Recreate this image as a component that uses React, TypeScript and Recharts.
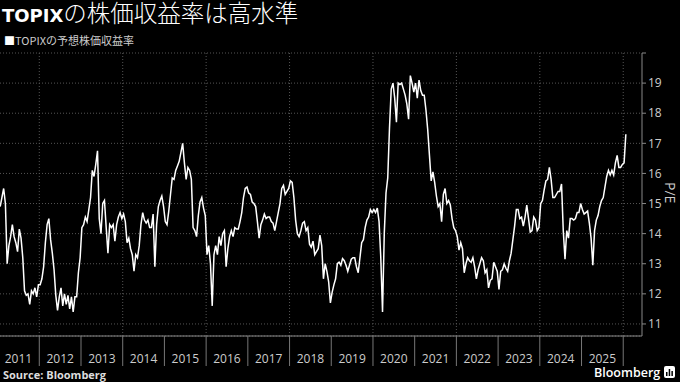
import { LineChart, Line, XAxis, YAxis, CartesianGrid, ReferenceLine } from 'recharts';

// forward P/E (2011 starts in the second half of January)
const pe2011 = [14.9, 15.2, 15.5, 15.0, 13.0, 13.6, 13.9, 14.3, 13.9, 13.7, 13.4, 14.15, 13.85, 13.2, 12.1, 11.95, 12.0, 11.65, 12.1, 12.0, 12.2, 11.9, 12.3];
const pe2012 = [12.3, 12.5, 12.9, 13.7, 14.3, 14.5, 13.8, 13.35, 12.8, 11.95, 11.45, 11.9, 12.2, 11.6, 12.0, 11.65, 11.95, 11.5, 11.9, 11.4, 11.9, 11.9, 12.7, 13.2];
const pe2013 = [14.2, 14.3, 14.55, 14.4, 14.8, 15.2, 16.1, 15.9, 16.3, 16.75, 14.5, 14.0, 15.0, 15.1, 14.2, 13.35, 14.3, 14.2, 14.3, 13.75, 14.3, 14.55, 14.7, 14.5];
const pe2014 = [14.65, 14.4, 13.7, 13.85, 13.5, 13.3, 12.75, 13.3, 13.2, 13.6, 14.3, 14.7, 14.45, 14.35, 14.45, 14.2, 14.2, 14.65, 12.9, 14.3, 14.9, 15.1, 15.25, 14.9];
const pe2015 = [14.4, 14.3, 14.75, 15.3, 15.85, 15.8, 16.1, 16.25, 16.4, 16.7, 17.0, 16.35, 15.8, 16.2, 16.1, 15.8, 14.2, 14.1, 13.9, 14.6, 15.05, 15.2, 14.85, 14.6];
const pe2016 = [13.3, 13.6, 13.0, 11.6, 13.3, 13.6, 13.3, 13.9, 13.6, 14.0, 14.1, 12.9, 13.5, 13.9, 14.1, 13.9, 14.2, 14.15, 14.15, 14.4, 14.7, 15.2, 15.5, 15.55];
const pe2017 = [15.35, 15.3, 15.05, 15.0, 14.9, 14.4, 13.85, 14.3, 14.45, 14.65, 14.5, 14.55, 14.55, 14.4, 14.35, 14.1, 14.4, 14.7, 15.0, 15.5, 15.6, 15.3, 15.4, 15.5];
const pe2018 = [15.75, 15.7, 15.2, 14.45, 14.0, 13.9, 14.1, 14.35, 14.4, 14.1, 14.2, 13.65, 13.55, 13.75, 13.3, 13.4, 13.5, 13.95, 13.6, 12.5, 13.0, 12.75, 12.4, 11.7];
const pe2019 = [12.05, 12.3, 12.5, 13.0, 13.05, 12.95, 13.17, 13.1, 12.95, 12.75, 12.95, 13.15, 13.2, 13.2, 12.9, 12.7, 13.2, 13.7, 13.8, 14.2, 14.45, 14.55, 14.8, 14.7];
const pe2020 = [14.8, 14.7, 14.85, 14.4, 13.2, 11.4, 14.0, 15.35, 15.85, 17.5, 18.8, 19.0, 18.5, 17.7, 19.0, 18.95, 19.0, 18.8, 18.6, 18.3, 17.8, 19.25, 19.0, 18.7];
const pe2021 = [19.0, 18.5, 19.1, 18.75, 18.6, 18.6, 18.1, 17.45, 16.6, 15.75, 16.05, 15.7, 15.25, 14.9, 15.0, 14.4, 15.3, 15.5, 15.0, 15.1, 14.95, 14.5, 14.2, 14.1];
const pe2022 = [13.9, 13.45, 13.7, 13.5, 12.7, 13.0, 13.2, 13.1, 13.05, 13.2, 12.9, 12.5, 12.8, 13.0, 13.2, 13.1, 12.7, 12.8, 12.2, 12.45, 12.5, 13.05, 12.9, 12.75];
const pe2023 = [12.15, 12.75, 12.8, 13.0, 12.85, 12.75, 13.1, 13.35, 13.8, 14.25, 14.8, 14.8, 14.5, 14.55, 14.25, 14.55, 14.95, 14.5, 14.05, 14.1, 14.55, 14.45, 14.1, 14.2];
const pe2024 = [15.0, 15.1, 15.45, 15.75, 15.8, 16.2, 15.8, 15.2, 15.2, 15.3, 15.4, 15.4, 15.65, 14.1, 13.15, 14.1, 13.85, 14.5, 14.5, 14.45, 14.5, 14.7, 14.7, 15.0];
const pe2025 = [14.8, 14.65, 14.7, 14.75, 14.35, 13.85, 12.95, 14.1, 14.45, 14.6, 14.9, 15.1, 15.2, 15.55, 15.9, 16.1, 15.95, 16.1, 15.95, 16.35, 16.6, 16.2, 16.2, 16.3];
const pe2026 = [16.35, 17.3];

const yearSeries = [
  { year: 2011, start: 1, values: pe2011 },
  { year: 2012, start: 0, values: pe2012 },
  { year: 2013, start: 0, values: pe2013 },
  { year: 2014, start: 0, values: pe2014 },
  { year: 2015, start: 0, values: pe2015 },
  { year: 2016, start: 0, values: pe2016 },
  { year: 2017, start: 0, values: pe2017 },
  { year: 2018, start: 0, values: pe2018 },
  { year: 2019, start: 0, values: pe2019 },
  { year: 2020, start: 0, values: pe2020 },
  { year: 2021, start: 0, values: pe2021 },
  { year: 2022, start: 0, values: pe2022 },
  { year: 2023, start: 0, values: pe2023 },
  { year: 2024, start: 0, values: pe2024 },
  { year: 2025, start: 0, values: pe2025 },
  { year: 2026, start: 0, values: pe2026 },
];

const yearLabels = [2011, 2012, 2013, 2014, 2015, 2016, 2017, 2018, 2019, 2020, 2021, 2022, 2023, 2024, 2025];
const yearBreaks = [2012, 2013, 2014, 2015, 2016, 2017, 2018, 2019, 2020, 2021, 2022, 2023, 2024, 2025, 2026];
const gridYears = [2012, 2014, 2016, 2018, 2020, 2022, 2024, 2026];
const peTicks = [11, 12, 13, 14, 15, 16, 17, 18, 19, 20];

const data = yearSeries.flatMap(({ year, start, values }) =>
  values.map((pe, i) => ({ t: year + (start + i + 0.5) / 24, pe })),
);

const xTicks = [...yearLabels.map((y) => y + 0.5), ...yearBreaks];

const font = "'Open Sans', 'Noto Sans', sans-serif";
const jpFont = "'Noto Sans CJK JP', 'Noto Sans', sans-serif";

function YearTick(props: any) {
  const { x, y, payload } = props;
  const v = payload.value as number;
  if (Number.isInteger(v)) {
    return <line x1={x} x2={x} y1={y} y2={y + 30} stroke="#777" />;
  }
  return (
    <text x={x} y={y + 27} textAnchor="middle" fill="#ccc" fontSize={12} fontFamily={font}>
      {Math.floor(v)}
    </text>
  );
}

export default function App() {
  return (
    <div
      style={{
        position: 'absolute',
        left: 0,
        top: 0,
        width: 680,
        height: 382,
        background: '#000',
        overflow: 'hidden',
      }}
    >
      <LineChart width={680} height={382} data={data} margin={{ top: 53, right: 0, left: 0, bottom: 16 }}>
        <CartesianGrid vertical={false} stroke="#555" strokeDasharray="1 2" />
        {gridYears.map((y) => (
          <ReferenceLine key={y} x={y} stroke="#555" strokeDasharray="1 2" />
        ))}
        <XAxis
          dataKey="t"
          type="number"
          domain={[2011.058, 2026.45]}
          allowDataOverflow
          ticks={xTicks}
          interval={0}
          height={30}
          tickLine={false}
          tickSize={0}
          tickMargin={0}
          stroke="#888"
          tick={YearTick}
        />
        <YAxis
          orientation="right"
          domain={[10.6, 20]}
          allowDataOverflow
          ticks={peTicks}
          interval={0}
          width={38}
          stroke="#888"
          tickSize={4}
          tickMargin={2}
          tickFormatter={(v: number) => (v === 20 ? '' : String(v))}
          tick={{ fill: '#ccc', fontSize: 12, fontFamily: font }}
        />
        <Line
          type="linear"
          dataKey="pe"
          stroke="#fff"
          strokeWidth={1.5}
          dot={false}
          isAnimationActive={false}
        />
      </LineChart>

      <svg
        width={680}
        height={382}
        style={{ position: 'absolute', left: 0, top: 0, pointerEvents: 'none' }}
      >
        <text x={2} y={21.5} fill="#fff">
          <tspan fontFamily="'DejaVu Sans', sans-serif" fontWeight={700} fontSize={18}>
            TOPIX
          </tspan>
          <tspan fontFamily={jpFont} fontWeight={300} fontSize={23.5}>
            の株価収益率は高水準
          </tspan>
        </text>
        <text x={4} y={44.5} fontFamily={jpFont} fontSize={11} fill="#ccc">
          <tspan fill="#fff">■</tspan>TOPIXの予想株価収益率
        </text>
        <text
          transform="translate(665,182) rotate(90)"
          fontFamily={font}
          fontSize={14}
          fill="#ccc"
        >
          P/E
        </text>
        <text x={3} y={378.5} fontFamily={font} fontWeight={700} fontSize={11} fill="#ddd">
          Source: Bloomberg
        </text>
        <text x={594} y={377} fontFamily={font} fontWeight={600} fontSize={12.5} fill="#fff">
          Bloomberg
        </text>
        <rect x={664} y={366} width={11} height={12} rx={2} fill="#fff" />
        <rect x={666} y={372} width={1.5} height={4} fill="#000" />
        <rect x={668.7} y={369} width={1.5} height={7} fill="#000" />
        <rect x={671.4} y={371} width={1.5} height={5} fill="#000" />
      </svg>
    </div>
  );
}
